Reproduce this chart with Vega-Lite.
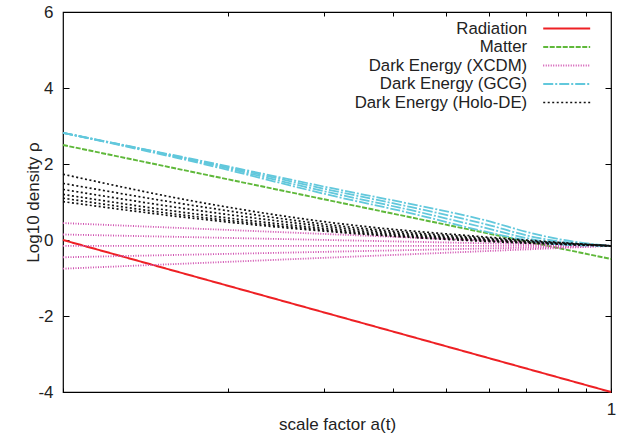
{
  "$schema": "https://vega.github.io/schema/vega-lite/v6.json",
  "width": 548,
  "height": 380,
  "autosize": {"type": "none"},
  "padding": {"left": 63, "top": 12, "right": 13, "bottom": 46},
  "background": "white",
  "config": {
    "view": {"stroke": "#000", "strokeWidth": 1.2},
    "font": "Liberation Sans",
    "axis": {
      "domain": false,
      "grid": false,
      "labelFont": "Liberation Sans",
      "labelFontSize": 17,
      "labelColor": "#222",
      "titleFont": "Liberation Sans",
      "titleFontSize": 17,
      "titleFontWeight": "normal",
      "titleColor": "#222",
      "tickColor": "#000",
      "tickWidth": 1
    }
  },
  "datasets": {
    "curves": [
      {"series": "Radiation", "line": "R", "a": 0.1, "rho": 0},
      {"series": "Radiation", "line": "R", "a": 1, "rho": -4},
      {"series": "Matter", "line": "M", "a": 0.1, "rho": 2.5},
      {"series": "Matter", "line": "M", "a": 1, "rho": -0.5},
      {"series": "Dark Energy (XCDM)", "line": "X1", "a": 0.1, "rho": 0.445},
      {"series": "Dark Energy (XCDM)", "line": "X1", "a": 1, "rho": -0.155},
      {"series": "Dark Energy (XCDM)", "line": "X2", "a": 0.1, "rho": 0.145},
      {"series": "Dark Energy (XCDM)", "line": "X2", "a": 1, "rho": -0.155},
      {"series": "Dark Energy (XCDM)", "line": "X3", "a": 0.1, "rho": -0.155},
      {"series": "Dark Energy (XCDM)", "line": "X3", "a": 1, "rho": -0.155},
      {"series": "Dark Energy (XCDM)", "line": "X4", "a": 0.1, "rho": -0.455},
      {"series": "Dark Energy (XCDM)", "line": "X4", "a": 1, "rho": -0.155},
      {"series": "Dark Energy (XCDM)", "line": "X5", "a": 0.1, "rho": -0.755},
      {"series": "Dark Energy (XCDM)", "line": "X5", "a": 1, "rho": -0.155},
      {"series": "Dark Energy (GCG)", "line": "G1", "a": 0.1, "rho": 2.82},
      {"series": "Dark Energy (GCG)", "line": "G1", "a": 0.178, "rho": 2.09},
      {"series": "Dark Energy (GCG)", "line": "G1", "a": 0.32, "rho": 1.32},
      {"series": "Dark Energy (GCG)", "line": "G1", "a": 0.43, "rho": 0.95},
      {"series": "Dark Energy (GCG)", "line": "G1", "a": 0.578, "rho": 0.55},
      {"series": "Dark Energy (GCG)", "line": "G1", "a": 0.745, "rho": 0.12},
      {"series": "Dark Energy (GCG)", "line": "G1", "a": 0.87, "rho": -0.06},
      {"series": "Dark Energy (GCG)", "line": "G1", "a": 1, "rho": -0.155},
      {"series": "Dark Energy (GCG)", "line": "G2", "a": 0.1, "rho": 2.82},
      {"series": "Dark Energy (GCG)", "line": "G2", "a": 0.178, "rho": 2.07},
      {"series": "Dark Energy (GCG)", "line": "G2", "a": 0.32, "rho": 1.26},
      {"series": "Dark Energy (GCG)", "line": "G2", "a": 0.43, "rho": 0.87},
      {"series": "Dark Energy (GCG)", "line": "G2", "a": 0.578, "rho": 0.45},
      {"series": "Dark Energy (GCG)", "line": "G2", "a": 0.745, "rho": 0.04},
      {"series": "Dark Energy (GCG)", "line": "G2", "a": 0.87, "rho": -0.09},
      {"series": "Dark Energy (GCG)", "line": "G2", "a": 1, "rho": -0.155},
      {"series": "Dark Energy (GCG)", "line": "G3", "a": 0.1, "rho": 2.82},
      {"series": "Dark Energy (GCG)", "line": "G3", "a": 0.178, "rho": 2.05},
      {"series": "Dark Energy (GCG)", "line": "G3", "a": 0.32, "rho": 1.19},
      {"series": "Dark Energy (GCG)", "line": "G3", "a": 0.43, "rho": 0.79},
      {"series": "Dark Energy (GCG)", "line": "G3", "a": 0.578, "rho": 0.35},
      {"series": "Dark Energy (GCG)", "line": "G3", "a": 0.745, "rho": -0.02},
      {"series": "Dark Energy (GCG)", "line": "G3", "a": 0.87, "rho": -0.12},
      {"series": "Dark Energy (GCG)", "line": "G3", "a": 1, "rho": -0.155},
      {"series": "Dark Energy (GCG)", "line": "G4", "a": 0.1, "rho": 2.82},
      {"series": "Dark Energy (GCG)", "line": "G4", "a": 0.178, "rho": 2.02},
      {"series": "Dark Energy (GCG)", "line": "G4", "a": 0.32, "rho": 1.12},
      {"series": "Dark Energy (GCG)", "line": "G4", "a": 0.43, "rho": 0.71},
      {"series": "Dark Energy (GCG)", "line": "G4", "a": 0.578, "rho": 0.25},
      {"series": "Dark Energy (GCG)", "line": "G4", "a": 0.745, "rho": -0.07},
      {"series": "Dark Energy (GCG)", "line": "G4", "a": 0.87, "rho": -0.14},
      {"series": "Dark Energy (GCG)", "line": "G4", "a": 1, "rho": -0.155},
      {"series": "Dark Energy (Holo-DE)", "line": "H1", "a": 0.1, "rho": 1.73},
      {"series": "Dark Energy (Holo-DE)", "line": "H1", "a": 0.178, "rho": 0.99},
      {"series": "Dark Energy (Holo-DE)", "line": "H1", "a": 0.32, "rho": 0.43},
      {"series": "Dark Energy (Holo-DE)", "line": "H1", "a": 0.578, "rho": 0.09},
      {"series": "Dark Energy (Holo-DE)", "line": "H1", "a": 1, "rho": -0.155},
      {"series": "Dark Energy (Holo-DE)", "line": "H2", "a": 0.1, "rho": 1.49},
      {"series": "Dark Energy (Holo-DE)", "line": "H2", "a": 0.178, "rho": 0.88},
      {"series": "Dark Energy (Holo-DE)", "line": "H2", "a": 0.32, "rho": 0.37},
      {"series": "Dark Energy (Holo-DE)", "line": "H2", "a": 0.578, "rho": 0.06},
      {"series": "Dark Energy (Holo-DE)", "line": "H2", "a": 1, "rho": -0.155},
      {"series": "Dark Energy (Holo-DE)", "line": "H3", "a": 0.1, "rho": 1.33},
      {"series": "Dark Energy (Holo-DE)", "line": "H3", "a": 0.178, "rho": 0.77},
      {"series": "Dark Energy (Holo-DE)", "line": "H3", "a": 0.32, "rho": 0.32},
      {"series": "Dark Energy (Holo-DE)", "line": "H3", "a": 0.578, "rho": 0.03},
      {"series": "Dark Energy (Holo-DE)", "line": "H3", "a": 1, "rho": -0.155},
      {"series": "Dark Energy (Holo-DE)", "line": "H4", "a": 0.1, "rho": 1.2},
      {"series": "Dark Energy (Holo-DE)", "line": "H4", "a": 0.178, "rho": 0.67},
      {"series": "Dark Energy (Holo-DE)", "line": "H4", "a": 0.32, "rho": 0.27},
      {"series": "Dark Energy (Holo-DE)", "line": "H4", "a": 0.578, "rho": 0.01},
      {"series": "Dark Energy (Holo-DE)", "line": "H4", "a": 1, "rho": -0.155},
      {"series": "Dark Energy (Holo-DE)", "line": "H5", "a": 0.1, "rho": 1.1},
      {"series": "Dark Energy (Holo-DE)", "line": "H5", "a": 0.178, "rho": 0.6},
      {"series": "Dark Energy (Holo-DE)", "line": "H5", "a": 0.32, "rho": 0.23},
      {"series": "Dark Energy (Holo-DE)", "line": "H5", "a": 0.578, "rho": -0.01},
      {"series": "Dark Energy (Holo-DE)", "line": "H5", "a": 1, "rho": -0.155},
      {"series": "Dark Energy (Holo-DE)", "line": "H6", "a": 0.1, "rho": 1.01},
      {"series": "Dark Energy (Holo-DE)", "line": "H6", "a": 0.178, "rho": 0.55},
      {"series": "Dark Energy (Holo-DE)", "line": "H6", "a": 0.32, "rho": 0.2},
      {"series": "Dark Energy (Holo-DE)", "line": "H6", "a": 0.578, "rho": -0.03},
      {"series": "Dark Energy (Holo-DE)", "line": "H6", "a": 1, "rho": -0.155}
    ]
  },
  "layer": [
    {
      "data": {"name": "curves"},
      "mark": {"type": "line", "interpolate": "monotone"},
      "encoding": {
        "x": {
          "field": "a",
          "type": "quantitative",
          "scale": {"type": "log", "domain": [0.1, 1], "nice": false},
          "axis": {
            "orient": "bottom",
            "values": [0.1, 0.2, 0.3, 0.4, 0.5, 0.6, 0.7, 0.8, 0.9, 1],
            "labelExpr": "datum.value == 1 ? '1' : ''",
            "labelFlush": false,
            "labelOverlap": false,
            "tickSize": -4,
            "labelPadding": 13,
            "title": "scale factor a(t)",
            "titlePadding": -1
          }
        },
        "y": {
          "field": "rho",
          "type": "quantitative",
          "scale": {"domain": [-4, 6], "nice": false, "zero": false},
          "axis": {
            "orient": "left",
            "values": [-4, -2, 0, 2, 4, 6],
            "labelExpr": "'' + datum.value",
            "tickSize": -6,
            "labelPadding": 16,
            "title": "Log10 density ρ",
            "titlePadding": -5
          }
        },
        "color": {
          "field": "series",
          "type": "nominal",
          "scale": {
            "domain": ["Radiation", "Matter", "Dark Energy (XCDM)", "Dark Energy (GCG)", "Dark Energy (Holo-DE)"],
            "range": ["#ee2024", "#5fb83a", "#d050b0", "#62c8dc", "#111111"]
          },
          "legend": {
            "orient": "none",
            "legendX": 463,
            "legendY": 7.5,
            "title": null,
            "labelAlign": "right",
            "labelOffset": -48.5,
            "symbolOffset": 31.7,
            "symbolSize": 245,
            "symbolType": "M-3,0H3",
            "symbolStrokeWidth": 1.5,
            "rowPadding": 0.5,
            "padding": 0,
            "labelFont": "Liberation Sans",
            "labelFontSize": 16.8,
            "labelColor": "#222",
            "labelLimit": 400
          }
        },
        "strokeDash": {
          "field": "series",
          "type": "nominal",
          "scale": {
            "domain": ["Radiation", "Matter", "Dark Energy (XCDM)", "Dark Energy (GCG)", "Dark Energy (Holo-DE)"],
            "range": [[1, 0], [5, 1.5], [1, 1.5], [10, 2, 2, 2], [2, 2.5]]
          }
        },
        "strokeWidth": {
          "field": "series",
          "type": "nominal",
          "scale": {
            "domain": ["Radiation", "Matter", "Dark Energy (XCDM)", "Dark Energy (GCG)", "Dark Energy (Holo-DE)"],
            "range": [2, 1.7, 1.4, 2, 1.5]
          },
          "legend": null
        },
        "detail": {"field": "line", "type": "nominal"}
      }
    },
    {
      "data": {"name": "curves"},
      "mark": {"type": "line", "strokeOpacity": 0},
      "encoding": {
        "x": {
          "field": "a",
          "type": "quantitative",
          "axis": {
            "orient": "top",
            "values": [0.2, 0.3, 0.4, 0.5, 0.6, 0.7, 0.8, 0.9],
            "labels": false,
            "tickSize": -4,
            "title": null
          }
        },
        "y": {
          "field": "rho",
          "type": "quantitative",
          "axis": {
            "orient": "right",
            "values": [-4, -2, 0, 2, 4, 6],
            "labels": false,
            "tickSize": -6,
            "title": null
          }
        },
        "detail": {"field": "line", "type": "nominal"}
      }
    }
  ],
  "resolve": {"axis": {"x": "independent", "y": "independent"}}
}
